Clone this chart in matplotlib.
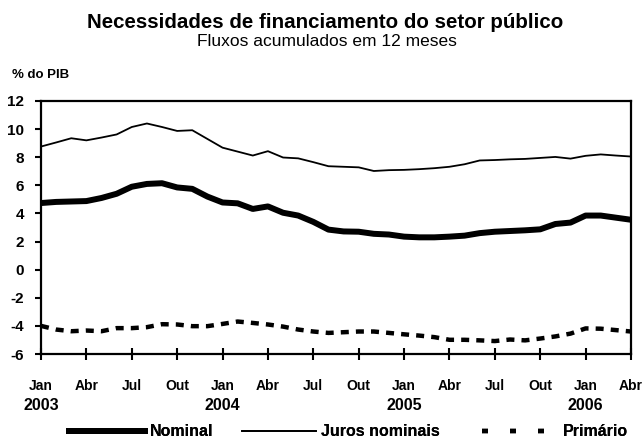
import numpy as np
import matplotlib
matplotlib.use("Agg")
import matplotlib.pyplot as plt
from matplotlib.lines import Line2D
from matplotlib.transforms import blended_transform_factory

plt.rcParams['font.family'] = ['Liberation Sans', 'DejaVu Sans']

# Monthly data, Jan 2003 .. Apr 2006 (% do PIB, 12-month accumulated)
nominal = [4.74, 4.82, 4.85, 4.88, 5.10, 5.40, 5.90, 6.10, 6.15, 5.85, 5.75, 5.20,
           4.78, 4.72, 4.32, 4.50, 4.05, 3.85, 3.40, 2.85, 2.72, 2.70, 2.55, 2.50,
           2.35, 2.30, 2.30, 2.35, 2.42, 2.60, 2.70, 2.75, 2.80, 2.87, 3.25, 3.35,
           3.85, 3.85, 3.70, 3.55]
juros = [8.76, 9.05, 9.35, 9.20, 9.40, 9.62, 10.15, 10.40, 10.15, 9.87, 9.92, 9.30,
         8.68, 8.40, 8.12, 8.43, 7.98, 7.92, 7.65, 7.36, 7.32, 7.28, 7.02, 7.08,
         7.10, 7.15, 7.22, 7.32, 7.50, 7.77, 7.80, 7.85, 7.88, 7.95, 8.02, 7.90,
         8.10, 8.20, 8.12, 8.05]
primario = [-4.00, -4.26, -4.38, -4.33, -4.38, -4.16, -4.16, -4.09, -3.88, -3.90, -4.02, -4.02,
            -3.86, -3.69, -3.79, -3.90, -4.05, -4.26, -4.40, -4.50, -4.45, -4.40, -4.40, -4.50,
            -4.60, -4.69, -4.80, -4.99, -4.99, -5.03, -5.08, -4.97, -5.03, -4.90, -4.75, -4.55,
            -4.18, -4.20, -4.30, -4.40]

month_labels = ["Jan", "Abr", "Jul", "Out"] * 3 + ["Jan", "Abr"]
year_labels = ["2003", "2004", "2005", "2006"]
y_ticks = [12, 10, 8, 6, 4, 2, 0, -2, -4, -6]

title = "Necessidades de financiamento do setor público"
subtitle = "Fluxos acumulados em 12 meses"
unit = "% do PIB"
series_names = ["Nominal", "Juros nominais", "Primário"]

W, H = 643, 443
fig = plt.figure(figsize=(W / 100, H / 100), dpi=100)
ax = fig.add_axes([41 / W, 1 - 354 / H, (631 - 41) / W, (354 - 101) / H])

x = np.arange(len(nominal))
ax.plot(x, nominal, color='black', lw=4.3, solid_capstyle='butt', solid_joinstyle='round')
ax.plot(x, juros, color='black', lw=1.3)
ax.plot(x, primario, color='black', lw=3.2, linestyle=(0, (1.8, 1.6)), dash_capstyle='butt')

ax.set_xlim(0, len(nominal) - 1)
ax.set_ylim(-6, 12)
ax.set_yticks(y_ticks)
ax.set_yticklabels([str(v) for v in y_ticks], fontsize=11, fontweight='bold')
tick_pos = list(range(0, len(nominal), 3))
ax.set_xticks(tick_pos)
ax.set_xticklabels(month_labels, fontsize=10, fontweight='bold')
ax.tick_params(axis='x', direction='inout', length=8, width=1.5, pad=14)
ax.tick_params(axis='y', direction='out', length=4, width=1.5, pad=8)
for s in ax.spines.values():
    s.set_linewidth(1.6)

trans = blended_transform_factory(ax.transData, fig.transFigure)
for i, yl in enumerate(year_labels):
    ax.text(i * 12, 1 - 406 / H, yl, transform=trans, ha='center', va='center',
            fontsize=11.5, fontweight='bold')

fig.text(325 / W, 1 - 22 / H, title, ha='center', va='center', fontsize=14.8, fontweight='bold')
fig.text(327 / W, 1 - 42 / H, subtitle, ha='center', va='center', fontsize=12.5)
fig.text(12 / W, 1 - 75 / H, unit, ha='left', va='center', fontsize=9.5, fontweight='bold')

# Legend: three single-entry legends placed along the bottom
fs = 11.5
fpx = fs * 100 / 72
leg_specs = [
    (Line2D([], [], color='black', lw=4.3, solid_capstyle='butt'), series_names[0], 66, 148, 150),
    (Line2D([], [], color='black', lw=1.3), series_names[1], 242, 316, 321),
    (Line2D([], [], color='black', lw=3.2, linestyle=(0, (1.35, 4.95)), dash_capstyle='butt'),
     series_names[2], 482, 545, 563),
]
for h, name, x0, x1, xt in leg_specs:
    leg = fig.legend([h], [name], loc='center left', bbox_to_anchor=(x0 / W, 1 - 432 / H),
                     frameon=False, borderpad=0, borderaxespad=0,
                     handlelength=(x1 - x0) / fpx, handletextpad=(xt - x1) / fpx,
                     prop={'weight': 'bold', 'size': fs})
    fig.add_artist(leg)

fig.savefig("out.png", dpi=100)
